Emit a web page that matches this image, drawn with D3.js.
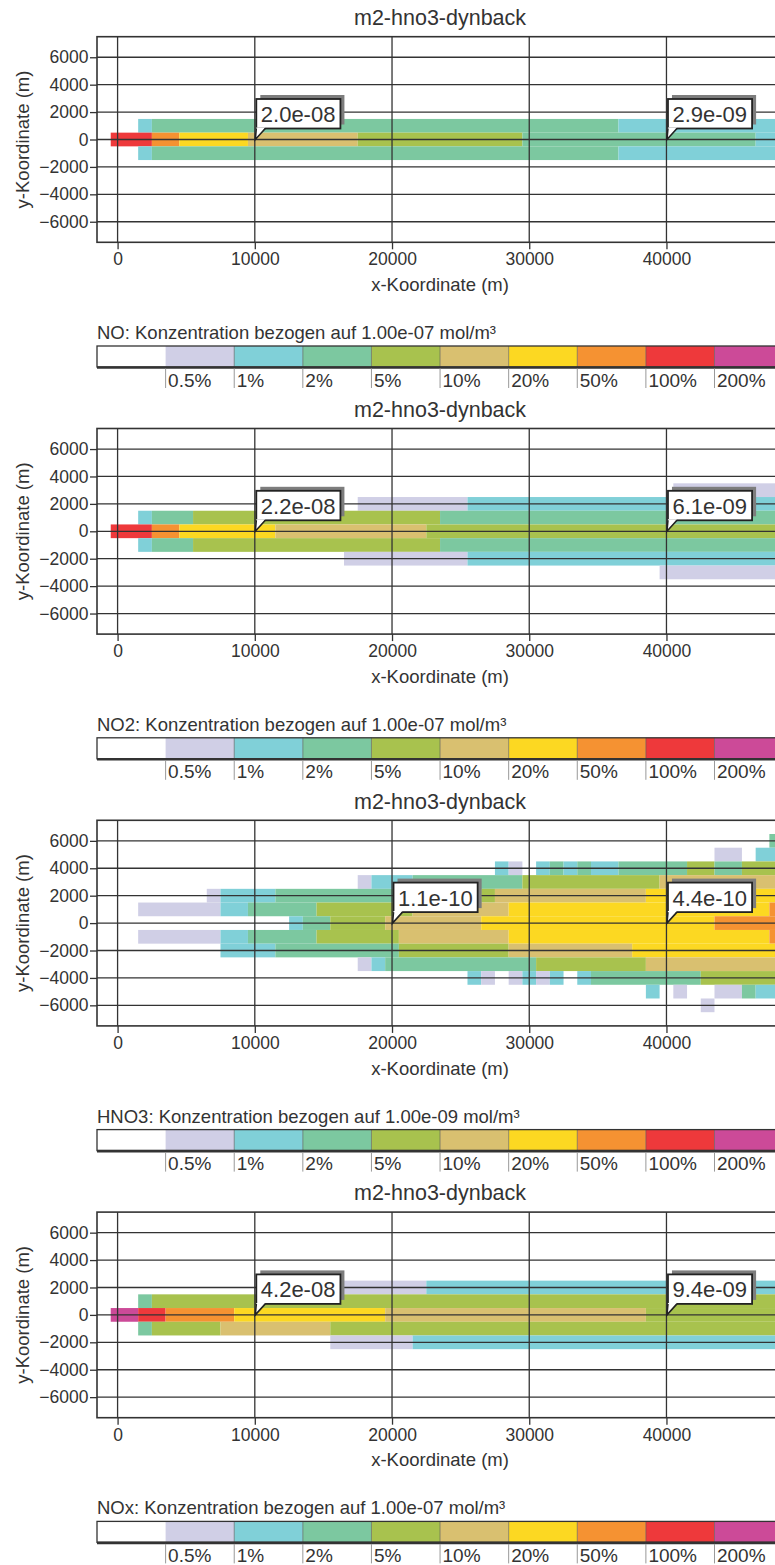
<!DOCTYPE html>
<html>
<head>
<meta charset="utf-8">
<script src="https://cdn.jsdelivr.net/npm/d3@7"></script>
<style>
  body { margin: 0; background: #fff; overflow: hidden; }
  text { font-family: "Liberation Sans", Arial, Helvetica, sans-serif; fill: #333; }
</style>
</head>
<body>
<svg id="chart" width="775" height="1565"></svg>
<script>
// ---- axis settings (metres) ----
const xDomain = [-1500, 48500];
const yDomain = [-7500, 7500];
const xTicks = [0, 10000, 20000, 30000, 40000];
const yTicks = [-6000, -4000, -2000, 0, 2000, 4000, 6000];
const cellSize = 1000;

// ---- concentration classes (relative to the reference concentration) ----
const classLabels = ["0.5%", "1%", "2%", "5%", "10%", "20%", "50%", "100%", "200%"];
const classColors = ["#d0cfe6", "#80d0d8", "#7cc8a0", "#a8c24e", "#d9c070",
                     "#fcd822", "#f59232", "#ee393b", "#cc4a98"];

const runTitle = "m2-hno3-dynback";
const species = ["NO", "NO2", "HNO3", "NOx"];
const refConc = ["1.00e-07", "1.00e-07", "1.00e-09", "1.00e-07"];

// grid cells as runs: [y (km), first x cell (km), last x cell (km), class 1..9]
const noRuns = [
  [1, 2, 2, 2], [1, 3, 36, 3], [1, 37, 48, 2],
  [0, 0, 2, 8], [0, 3, 4, 7], [0, 5, 9, 6], [0, 10, 17, 5], [0, 18, 29, 4], [0, 30, 46, 3], [0, 47, 48, 2],
  [-1, 2, 2, 2], [-1, 3, 36, 3], [-1, 37, 48, 2]
];
const no2Runs = [
  [3, 41, 48, 1],
  [2, 18, 25, 1], [2, 26, 48, 2],
  [1, 2, 2, 2], [1, 3, 5, 3], [1, 6, 23, 4], [1, 24, 48, 3],
  [0, 0, 2, 8], [0, 3, 4, 7], [0, 5, 11, 6], [0, 12, 22, 5], [0, 23, 48, 4],
  [-1, 2, 2, 2], [-1, 3, 5, 3], [-1, 6, 23, 4], [-1, 24, 48, 3],
  [-2, 17, 25, 1], [-2, 26, 48, 2],
  [-3, 40, 48, 1]
];
const hno3Runs = [
  [6, 48, 48, 3],
  [5, 44, 45, 1], [5, 47, 48, 2],
  [4, 28, 28, 2], [4, 29, 29, 1], [4, 31, 31, 2], [4, 32, 32, 3], [4, 33, 33, 2], [4, 34, 34, 3],
  [4, 35, 36, 2], [4, 37, 41, 3], [4, 42, 43, 4], [4, 44, 45, 3], [4, 46, 48, 4],
  [3, 18, 18, 1], [3, 19, 21, 2], [3, 22, 29, 3], [3, 30, 39, 4], [3, 40, 48, 5],
  [2, 7, 7, 1], [2, 8, 11, 2], [2, 12, 26, 3], [2, 27, 27, 4], [2, 28, 38, 5], [2, 39, 48, 6],
  [1, 2, 7, 1], [1, 8, 9, 2], [1, 10, 14, 3], [1, 15, 21, 4], [1, 22, 28, 5], [1, 29, 47, 6], [1, 48, 48, 7],
  [0, 13, 13, 2], [0, 14, 15, 3], [0, 16, 19, 4], [0, 20, 26, 5], [0, 27, 43, 6], [0, 44, 48, 7],
  [-1, 2, 7, 1], [-1, 8, 9, 2], [-1, 10, 14, 3], [-1, 15, 20, 4], [-1, 21, 28, 5], [-1, 29, 47, 6], [-1, 48, 48, 7],
  [-2, 8, 11, 2], [-2, 12, 20, 3], [-2, 21, 28, 4], [-2, 29, 37, 5], [-2, 38, 48, 6],
  [-3, 18, 18, 1], [-3, 19, 19, 2], [-3, 20, 30, 3], [-3, 31, 38, 4], [-3, 39, 48, 5],
  [-4, 26, 26, 2], [-4, 27, 27, 1], [-4, 29, 29, 1], [-4, 30, 30, 2], [-4, 31, 31, 1], [-4, 32, 32, 2],
  [-4, 34, 34, 2], [-4, 35, 42, 3], [-4, 43, 48, 4],
  [-5, 39, 39, 2], [-5, 41, 41, 1], [-5, 44, 45, 1], [-5, 46, 46, 3], [-5, 47, 48, 2],
  [-6, 43, 43, 1]
];
const noxRuns = [
  [2, 16, 22, 1], [2, 23, 48, 2],
  [1, 2, 2, 3], [1, 3, 48, 4],
  [0, 0, 1, 9], [0, 2, 3, 8], [0, 4, 8, 7], [0, 9, 19, 6], [0, 20, 38, 5], [0, 39, 48, 4],
  [-1, 2, 2, 3], [-1, 3, 7, 4], [-1, 8, 15, 5], [-1, 16, 48, 4],
  [-2, 16, 21, 1], [-2, 22, 48, 2]
];

// labelled point values: [x (m), y (m), text]
const noPeaks = [[10000, 0, "2.0e-08"], [40000, 0, "2.9e-09"]];
const no2Peaks = [[10000, 0, "2.2e-08"], [40000, 0, "6.1e-09"]];
const hno3Peaks = [[20000, 0, "1.1e-10"], [40000, 0, "4.4e-10"]];
const noxPeaks = [[10000, 0, "4.2e-08"], [40000, 0, "9.4e-09"]];

const panelRuns = [noRuns, no2Runs, hno3Runs, noxRuns];
const panelPeaks = [noPeaks, no2Peaks, hno3Peaks, noxPeaks];

// ---- layout ----
const panelStep = 391.8;
const plot = { left: 97, right: 783.1, top: 36.7, bottom: 242.3 };

const svg = d3.select("#chart");
const x = d3.scaleLinear().domain(xDomain).range([plot.left, plot.right]);
const y = d3.scaleLinear().domain(yDomain).range([plot.bottom, plot.top]);

svg.append("defs").append("clipPath").attr("id", "plotClip")
  .append("rect")
  .attr("x", plot.left).attr("y", plot.top)
  .attr("width", plot.right - plot.left).attr("height", plot.bottom - plot.top);

const legendScale = d3.scaleBand().domain(d3.range(10)).range([plot.left, plot.right]);
const legendColors = ["#ffffff"].concat(classColors);

species.forEach((sp, i) => {
  const g = svg.append("g").attr("transform", `translate(0,${i * panelStep})`);

  g.append("text")
    .attr("x", (plot.left + plot.right) / 2).attr("y", 25)
    .attr("text-anchor", "middle").style("font-size", "21.5px")
    .text(runTitle);

  // concentration cells
  g.append("g").attr("clip-path", "url(#plotClip)")
    .selectAll("rect").data(panelRuns[i]).join("rect")
    .attr("x", d => x(d[1] * cellSize - cellSize / 2))
    .attr("width", d => x(d[2] * cellSize + cellSize / 2) - x(d[1] * cellSize - cellSize / 2))
    .attr("y", d => y(d[0] * cellSize + cellSize / 2))
    .attr("height", d => y(d[0] * cellSize - cellSize / 2) - y(d[0] * cellSize + cellSize / 2))
    .attr("fill", d => classColors[d[3] - 1]);

  // grid
  const grid = g.append("g").attr("stroke", "#333").attr("stroke-width", 1.3);
  grid.selectAll("line.v").data(xTicks).join("line").attr("class", "v")
    .attr("x1", d => x(d)).attr("x2", d => x(d))
    .attr("y1", plot.top).attr("y2", plot.bottom);
  grid.selectAll("line.h").data(yTicks).join("line").attr("class", "h")
    .attr("y1", d => y(d)).attr("y2", d => y(d))
    .attr("x1", plot.left).attr("x2", plot.right);

  // axes
  const ax = g.append("g").attr("transform", `translate(${plot.left},0)`)
    .call(d3.axisLeft(y).tickValues(yTicks).tickSize(7).tickPadding(1.5).tickFormat(d3.format("d")));
  const bx = g.append("g").attr("transform", `translate(0,${plot.bottom})`)
    .call(d3.axisBottom(x).tickValues(xTicks).tickSize(7).tickPadding(3.5).tickFormat(d3.format("d")));
  [ax, bx].forEach(a => {
    a.select(".domain").remove();
    a.selectAll(".tick line").attr("stroke", "#333").attr("stroke-width", 1.3);
    a.selectAll(".tick text").attr("fill", "#333")
      .style("font-size", "17.5px").style("font-family", "'Liberation Sans', Arial, sans-serif");
  });

  // frame
  g.append("rect")
    .attr("x", plot.left).attr("y", plot.top)
    .attr("width", plot.right - plot.left).attr("height", plot.bottom - plot.top)
    .attr("fill", "none").attr("stroke", "#333").attr("stroke-width", 1.6);

  // axis titles
  g.append("text")
    .attr("x", (plot.left + plot.right) / 2).attr("y", 291)
    .attr("text-anchor", "middle").style("font-size", "18.5px")
    .text("x-Koordinate (m)");
  g.append("text")
    .attr("transform", `translate(28.5,${(plot.top + plot.bottom) / 2}) rotate(-90)`)
    .attr("text-anchor", "middle").style("font-size", "18.5px")
    .text("y-Koordinate (m)");

  // value callouts
  panelPeaks[i].forEach(p => {
    const px = x(p[0]), py = y(p[1]);
    const bxl = px + 1.5, bby = py - 11, h = 29.5;
    const c = g.append("g");
    const shadow = c.append("rect").attr("fill", "#7d7d7d");
    const box = c.append("rect").attr("fill", "#fff").attr("stroke", "#222").attr("stroke-width", 1.8);
    const t = c.append("text").attr("x", bxl + 4.5).attr("y", bby - 6.5)
      .style("font-size", "22px").text(p[2]);
    const w = t.node().getComputedTextLength() + 9.5;
    shadow.attr("x", bxl + 4).attr("y", bby - h - 4).attr("width", w).attr("height", h);
    box.attr("x", bxl).attr("y", bby - h).attr("width", w).attr("height", h);
    t.raise();
    c.append("path")
      .attr("d", `M${bxl},${bby - 1}L${px + 0.5},${py}L${bxl + 9},${bby - 1}Z`)
      .attr("fill", "#fff").attr("stroke", "none");
    c.append("path")
      .attr("d", `M${bxl},${bby}L${px + 0.5},${py}L${bxl + 9},${bby}`)
      .attr("fill", "none").attr("stroke", "#222").attr("stroke-width", 1.6);
  });

  // colour legend
  const lg = g.append("g");
  lg.append("text").attr("x", plot.left).attr("y", 339)
    .style("font-size", "18.5px")
    .text(`${sp}: Konzentration bezogen auf ${refConc[i]} mol/m³`);
  lg.selectAll("rect.box").data(d3.range(10)).join("rect").attr("class", "box")
    .attr("x", d => legendScale(d)).attr("width", legendScale.bandwidth())
    .attr("y", 346).attr("height", 21)
    .attr("fill", d => legendColors[d]);
  lg.selectAll("line.sep").data(d3.range(2, 10)).join("line").attr("class", "sep")
    .attr("x1", d => legendScale(d)).attr("x2", d => legendScale(d))
    .attr("y1", 346).attr("y2", 367)
    .attr("stroke", "#555").attr("stroke-opacity", 0.6).attr("stroke-width", 1);
  lg.append("rect").attr("x", plot.left).attr("y", 346)
    .attr("width", plot.right - plot.left).attr("height", 21)
    .attr("fill", "none").attr("stroke", "#333").attr("stroke-width", 1.3);
  lg.append("line").attr("x1", plot.left).attr("x2", plot.right)
    .attr("y1", 367.5).attr("y2", 367.5).attr("stroke", "#333").attr("stroke-width", 2.6);
  lg.selectAll("line.tick").data(d3.range(1, 10)).join("line").attr("class", "tick")
    .attr("x1", d => legendScale(d)).attr("x2", d => legendScale(d))
    .attr("y1", 368.5).attr("y2", 388)
    .attr("stroke", "#999").attr("stroke-width", 1);
  lg.selectAll("text.lab").data(classLabels).join("text").attr("class", "lab")
    .attr("x", (d, k) => legendScale(k + 1) + 2.5).attr("y", 386.5)
    .style("font-size", "19px")
    .text(d => d);
});
</script>
</body>
</html>
